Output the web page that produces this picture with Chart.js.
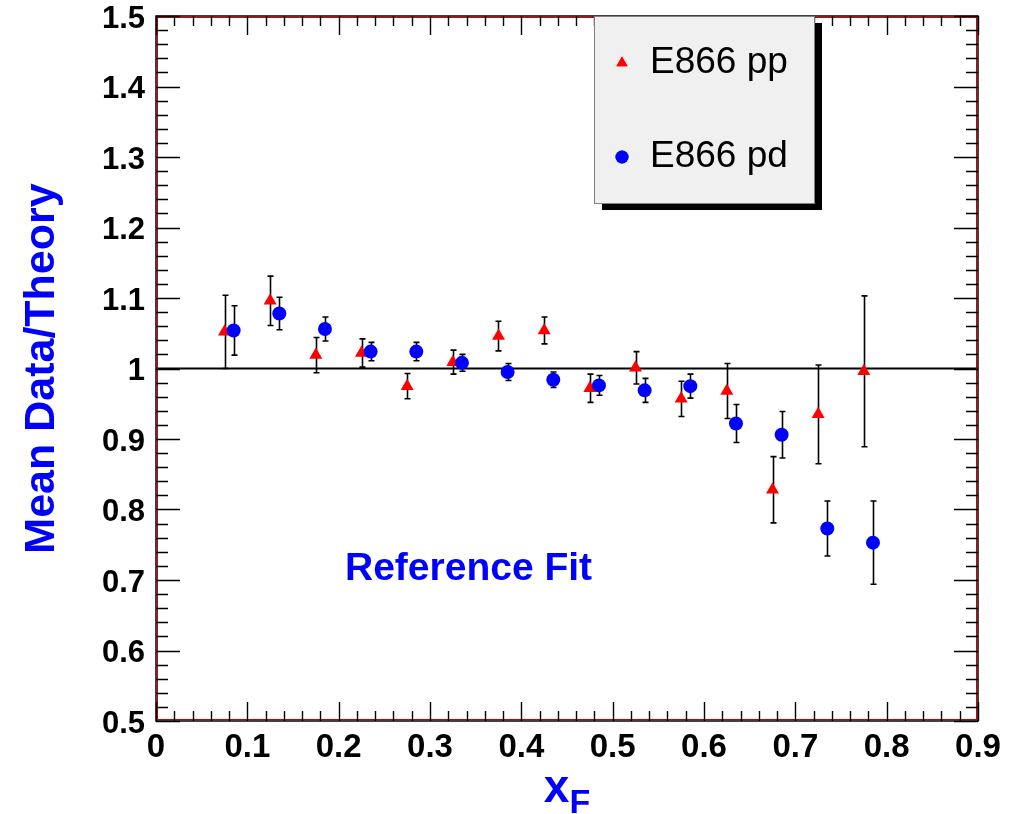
<!DOCTYPE html>
<html lang="en">

<head>
    <meta charset="UTF-8">
    <title>Mean Data/Theory vs xF</title>
    <script src="https://cdn.jsdelivr.net/npm/chart.js"></script>
    <style>
        body { margin: 0; background: #fff; }
        #grafico { display: block; }
    </style>
</head>

<body>
    <canvas id="grafico" width="1012" height="814"></canvas>

    <script>
        // E866 pp (triangles)
        const xPP = [0.075, 0.125, 0.175, 0.225, 0.275, 0.325, 0.375, 0.425, 0.475, 0.525, 0.575, 0.625, 0.675, 0.725, 0.775];
        const yPP = [1.052, 1.096, 1.019, 1.022, 0.975, 1.009, 1.046, 1.054, 0.972, 1.001, 0.957, 0.968, 0.828, 0.935, 0.996];
        const errPP = [0.052, 0.035, 0.025, 0.020, 0.018, 0.017, 0.021, 0.019, 0.020, 0.023, 0.025, 0.039, 0.047, 0.070, 0.107];

        // E866 pd (circles)
        const xPD = [0.085, 0.135, 0.185, 0.235, 0.285, 0.335, 0.385, 0.435, 0.485, 0.535, 0.585, 0.635, 0.685, 0.735, 0.785];
        const yPD = [1.054, 1.078, 1.056, 1.024, 1.024, 1.008, 0.995, 0.984, 0.976, 0.969, 0.975, 0.922, 0.906, 0.773, 0.753];
        const errPD = [0.035, 0.023, 0.017, 0.013, 0.013, 0.012, 0.012, 0.011, 0.014, 0.017, 0.017, 0.027, 0.033, 0.039, 0.059];

        // reference line and axis ticks
        const refLine = 1;
        const xTicks = [0, 0.1, 0.2, 0.3, 0.4, 0.5, 0.6, 0.7, 0.8, 0.9];
        const yTicks = [0.5, 0.6, 0.7, 0.8, 0.9, 1, 1.1, 1.2, 1.3, 1.4, 1.5];
        const minorDiv = 5;

        const FONT = "'Liberation Sans', Arial, Helvetica, sans-serif";
        const RED = '#ff0000';
        const BLUE = '#0000ff';

        const punti = (xs, ys) => xs.map((x, i) => ({ x: x, y: ys[i] }));
        const etichetta = (v) => String(+v.toFixed(2));

        // error bars, frame with inside ticks, legend box and texts
        const cornice = {
            id: 'cornice',
            beforeDatasetsDraw(chart) {
                const { ctx, scales: { x, y } } = chart;
                ctx.save();
                ctx.strokeStyle = '#000';
                ctx.lineWidth = 1.6;
                [[xPP, yPP, errPP], [xPD, yPD, errPD]].forEach(([xs, ys, es]) => {
                    xs.forEach((xv, i) => {
                        const px = Math.round(x.getPixelForValue(xv)) + 0.5;
                        const top = y.getPixelForValue(ys[i] + es[i]);
                        const bot = y.getPixelForValue(ys[i] - es[i]);
                        ctx.beginPath();
                        ctx.moveTo(px, top); ctx.lineTo(px, bot);
                        ctx.moveTo(px - 3, top); ctx.lineTo(px + 3, top);
                        ctx.moveTo(px - 3, bot); ctx.lineTo(px + 3, bot);
                        ctx.stroke();
                    });
                });
                ctx.restore();
            },
            afterDraw(chart) {
                const { ctx, chartArea: a, scales: { x, y } } = chart;
                ctx.save();

                // frame
                ctx.strokeStyle = '#000';
                ctx.lineWidth = 1.5;
                ctx.strokeRect(a.left, a.top, a.right - a.left, a.bottom - a.top);
                ctx.strokeStyle = '#d00000';
                ctx.lineWidth = 1;
                ctx.strokeRect(a.left + 1.5, a.top + 1.5, a.right - a.left - 3, a.bottom - a.top - 3);

                // ticks pointing inwards, on all four sides
                ctx.strokeStyle = '#000';
                ctx.lineWidth = 1.4;
                ctx.beginPath();
                for (let i = 0; i < xTicks.length; i++) {
                    const step = i < xTicks.length - 1 ? (xTicks[i + 1] - xTicks[i]) / minorDiv : 0;
                    for (let k = 0; k < (step ? minorDiv : 1); k++) {
                        const px = Math.round(x.getPixelForValue(xTicks[i] + k * step)) + 0.5;
                        const len = k === 0 ? 19 : 10;
                        ctx.moveTo(px, a.bottom); ctx.lineTo(px, a.bottom - len);
                        ctx.moveTo(px, a.top); ctx.lineTo(px, a.top + len);
                    }
                }
                for (let i = 0; i < yTicks.length; i++) {
                    const step = i < yTicks.length - 1 ? (yTicks[i + 1] - yTicks[i]) / minorDiv : 0;
                    for (let k = 0; k < (step ? minorDiv : 1); k++) {
                        const py = Math.round(y.getPixelForValue(yTicks[i] + k * step)) + 0.5;
                        const len = k === 0 ? 24 : 12;
                        ctx.moveTo(a.left, py); ctx.lineTo(a.left + len, py);
                        ctx.moveTo(a.right, py); ctx.lineTo(a.right - len, py);
                    }
                }
                ctx.stroke();

                // legend box with shadow
                const bx = 594, by = 16, bw = 220, bh = 187;
                ctx.fillStyle = '#000';
                ctx.fillRect(bx + 8, by + 7, bw, bh);
                ctx.fillStyle = '#f0f0f0';
                ctx.fillRect(bx, by, bw, bh);
                ctx.strokeStyle = '#808080';
                ctx.lineWidth = 1;
                ctx.strokeRect(bx + 0.5, by + 0.5, bw, bh);

                const voci = chart.data.datasets.filter(d => d.label);
                voci.forEach((d, i) => {
                    const cy = [63, 157][i];
                    ctx.fillStyle = d.backgroundColor;
                    Chart.helpers.drawPoint(ctx, { pointStyle: d.pointStyle, radius: 6.5, borderWidth: 0 }, 622, cy);
                    ctx.fill();
                    ctx.fillStyle = '#000';
                    ctx.font = `37px ${FONT}`;
                    ctx.textAlign = 'left';
                    ctx.textBaseline = 'alphabetic';
                    ctx.fillText(d.label, 650, cy + 10);
                });

                // text inside the frame
                ctx.fillStyle = BLUE;
                ctx.font = `bold 39px ${FONT}`;
                ctx.fillText('Reference Fit', 345, 580);

                // axis titles
                ctx.font = `bold 46px ${FONT}`;
                const wx = ctx.measureText('x').width;
                ctx.font = `bold 34px ${FONT}`;
                const wf = ctx.measureText('F').width;
                const x0 = (a.left + a.right) / 2 - (wx + wf) / 2;
                ctx.font = `bold 46px ${FONT}`;
                ctx.fillText('x', x0, 802);
                ctx.font = `bold 34px ${FONT}`;
                ctx.fillText('F', x0 + wx, 813);

                ctx.translate(54, (a.top + a.bottom) / 2);
                ctx.rotate(-Math.PI / 2);
                ctx.font = `bold 43px ${FONT}`;
                ctx.textAlign = 'center';
                ctx.fillText('Mean Data/Theory', 0, 0);

                ctx.restore();
            }
        };

        const canvas = document.getElementById('grafico').getContext('2d');

        const grafico = new Chart(canvas, {
            type: 'scatter',
            data: {
                datasets: [{
                    label: 'E866 pp',
                    data: punti(xPP, yPP),
                    pointStyle: 'triangle',
                    pointRadius: 7.5,
                    backgroundColor: RED,
                    borderColor: RED,
                    borderWidth: 0,
                    order: 2
                }, {
                    label: 'E866 pd',
                    data: punti(xPD, yPD),
                    pointStyle: 'circle',
                    pointRadius: 7,
                    backgroundColor: BLUE,
                    borderColor: BLUE,
                    borderWidth: 0,
                    order: 1
                }, {
                    type: 'line',
                    label: '',
                    data: [{ x: xTicks[0], y: refLine }, { x: xTicks[xTicks.length - 1], y: refLine }],
                    borderColor: '#000',
                    borderWidth: 2,
                    pointRadius: 0,
                    order: 3
                }]
            },
            options: {
                responsive: false,
                animation: false,
                events: [],
                layout: { padding: { top: 16, right: 34, bottom: 0, left: 0 } },
                plugins: { legend: { display: false }, tooltip: { enabled: false } },
                scales: {
                    x: {
                        type: 'linear',
                        position: 'bottom',
                        min: xTicks[0],
                        max: xTicks[xTicks.length - 1],
                        afterBuildTicks: (s) => { s.ticks = xTicks.map(v => ({ value: v })); },
                        afterFit: (s) => { s.height = 93; s.paddingLeft = 0; s.paddingRight = 0; },
                        grid: { display: false, drawTicks: false },
                        border: { display: false },
                        ticks: {
                            autoSkip: false,
                            maxRotation: 0,
                            padding: 10,
                            color: '#000',
                            font: { family: FONT, size: 33, weight: 'bold', lineHeight: 1 },
                            callback: etichetta
                        }
                    },
                    y: {
                        min: yTicks[0],
                        max: yTicks[yTicks.length - 1],
                        afterBuildTicks: (s) => { s.ticks = yTicks.map(v => ({ value: v })); },
                        afterFit: (s) => { s.width = 156; s.paddingTop = 0; s.paddingBottom = 0; },
                        grid: { display: false, drawTicks: false },
                        border: { display: false },
                        ticks: {
                            autoSkip: false,
                            padding: 11,
                            labelOffset: 3,
                            color: '#000',
                            font: { family: FONT, size: 31, weight: 'bold', lineHeight: 1 },
                            callback: etichetta
                        }
                    }
                }
            },
            plugins: [cornice]
        });
    </script>
</body>

</html>
